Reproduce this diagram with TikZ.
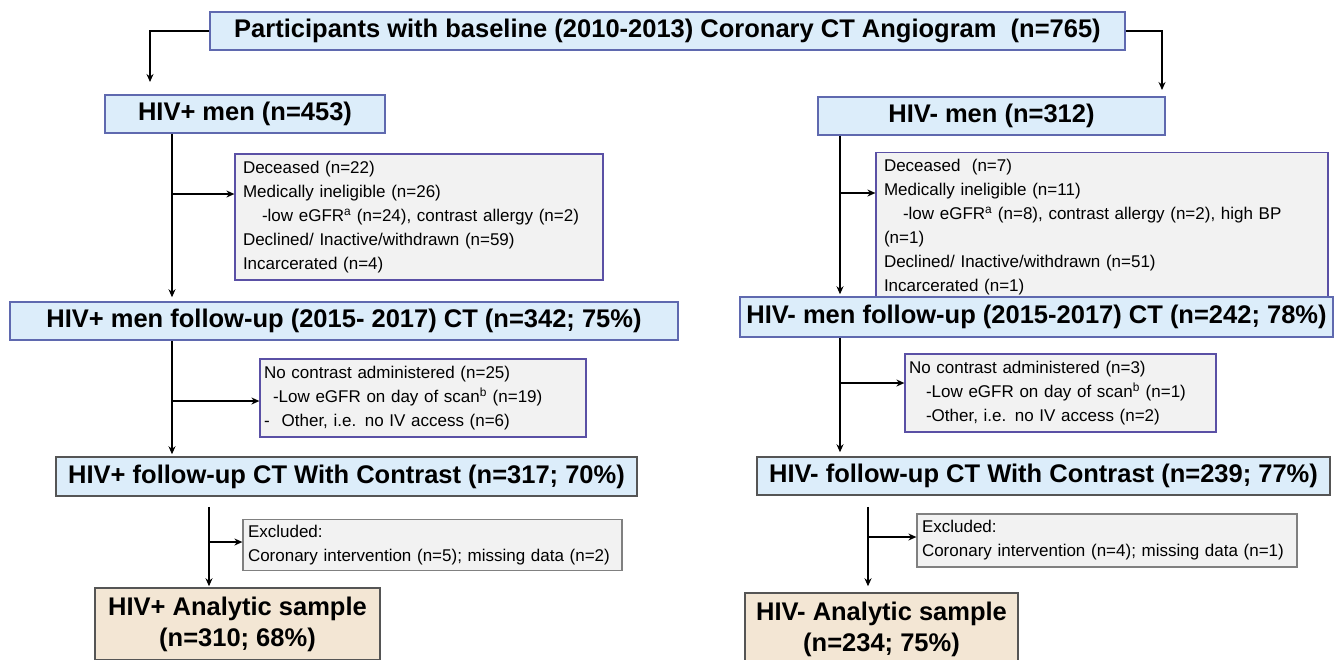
\documentclass[tikz,border=0pt]{standalone}
\usepackage{fontspec}
\setmainfont{Liberation Sans}
\usetikzlibrary{arrows.meta}
\definecolor{bluefill}{RGB}{220,237,250}
\definecolor{blueedge}{RGB}{95,105,175}
\definecolor{grayfill}{RGB}{242,242,242}
\definecolor{purpedge}{RGB}{90,80,165}
\definecolor{tanfill}{RGB}{243,230,212}
\definecolor{darkedge}{RGB}{85,85,85}
\tikzset{
 head/.style={draw=blueedge, fill=bluefill, line width=1.5pt, font=\fontsize{25.5}{31}\selectfont\bfseries, inner sep=0pt, align=center},
 contrastbox/.style={head, draw=darkedge},
 excl/.style={draw=purpedge, fill=grayfill, line width=1.2pt, font=\fontsize{17}{24}\selectfont, inner sep=0pt, align=left},
 exclgray/.style={excl, draw=gray},
 analytic/.style={head, fill=tanfill, draw=darkedge},
 conn/.style={line width=1.6pt, -{Stealth[length=8pt,width=7pt]}},
}
\begin{document}
\begin{tikzpicture}[x=1pt,y=-1pt]
\useasboundingbox (0,0) rectangle (1335,659);
% main boxes
\node[head, minimum width=915pt, minimum height=38pt] (top) at (667.5,31) {Participants with baseline (2010-2013) Coronary CT Angiogram\ \ (n=765)};
\node[head, minimum width=280pt, minimum height=38pt] (hivp) at (245,114) {HIV+ men (n=453)};
\node[head, minimum width=347pt, minimum height=38pt] (hivn) at (991.5,116) {HIV- men (n=312)};
% exclusion boxes level 1
\node[excl, minimum width=368pt, minimum height=126pt, text width=352pt] (e1L) at (419,217) {Deceased (n=22)\\Medically ineligible (n=26)\\\hspace*{19pt}-low eGFR\textsuperscript{a} (n=24), contrast allergy (n=2)\\Declined/ Inactive/withdrawn (n=59)\\Incarcerated (n=4)};
\node[excl, minimum width=452pt, minimum height=149pt, text width=436pt] (e1R) at (1102,227) {Deceased\ \ (n=7)\\Medically ineligible (n=11)\\\hspace*{19pt}-low eGFR\textsuperscript{a} (n=8), contrast allergy (n=2), high BP\\(n=1)\\Declined/ Inactive/withdrawn (n=51)\\Incarcerated (n=1)};
% follow-up boxes
\node[head, minimum width=668pt, minimum height=38pt] (fuL) at (344,321) {HIV+ men follow-up (2015- 2017) CT (n=342; 75\%)};
\node[head, minimum width=593pt, minimum height=40pt] (fuR) at (1036.5,317) {HIV- men follow-up (2015-2017) CT (n=242; 78\%)};
% exclusion boxes level 2
\node[excl, minimum width=326pt, minimum height=78pt, text width=318pt] (e2L) at (423,398) {No contrast administered (n=25)\\\hspace*{9pt}-Low eGFR on day of scan\textsuperscript{b} (n=19)\\-\hspace*{12pt}Other, i.e. no IV access (n=6)};
\node[excl, minimum width=311pt, minimum height=78pt, text width=303pt] (e2R) at (1060.5,393) {No contrast administered (n=3)\\\hspace*{17pt}-Low eGFR on day of scan\textsuperscript{b} (n=1)\\\hspace*{17pt}-Other, i.e. no IV access (n=2)};
% contrast boxes
\node[contrastbox, minimum width=581pt, minimum height=39pt] (conL) at (346.5,476.5) {HIV+ follow-up CT With Contrast (n=317; 70\%)};
\node[contrastbox, minimum width=573pt, minimum height=38pt] (conR) at (1043.5,476) {HIV- follow-up CT With Contrast (n=239; 77\%)};
% exclusion boxes level 3
\node[exclgray, minimum width=379pt, minimum height=51pt, text width=369pt] (e3L) at (432.5,545) {Excluded:\\Coronary intervention (n=5); missing data (n=2)};
\node[exclgray, minimum width=380pt, minimum height=53pt, text width=370pt] (e3R) at (1107,540.5) {Excluded:\\Coronary intervention (n=4); missing data (n=1)};
% analytic boxes
\node[analytic, minimum width=285pt, minimum height=72pt] (anaL) at (237.5,624) {HIV+ Analytic sample\\(n=310; 68\%)};
\node[analytic, minimum width=273pt, minimum height=72pt] (anaR) at (881.5,629) {HIV- Analytic sample\\(n=234; 75\%)};
% connectors from top
\coordinate (aL) at (150,82);
\coordinate (aR) at (1162,90);
\draw[conn] (top.west) -| (aL);
\draw[conn] (top.east) -| (aR);
% trunk coordinates
\coordinate (tL) at (172,0);
\coordinate (tR) at (840,0);
\coordinate (tL3) at (209,0);
\coordinate (tR3) at (868,0);
\coordinate (b1L) at (172,194);
\coordinate (b1R) at (840,193);
\coordinate (b2L) at (172,401);
\coordinate (b2R) at (840,383);
\coordinate (b3L) at (209,542);
\coordinate (b3R) at (868,537);
% left column
\draw[conn, shorten >=4pt] (tL |- hivp.south) -- (tL |- fuL.north);
\draw[conn] (b1L) -- (b1L -| e1L.west);
\draw[conn, shorten >=2pt] (tL |- fuL.south) -- (tL |- conL.north);
\draw[conn] (b2L) -- (b2L -| e2L.west);
\draw[conn, shorten <=10pt, shorten >=1pt] (tL3 |- conL.south) -- (tL3 |- anaL.north);
\draw[conn] (b3L) -- (b3L -| e3L.west);
% right column
\draw[conn, shorten >=2pt] (tR |- hivn.south) -- (tR |- fuR.north);
\draw[conn] (b1R) -- (b1R -| e1R.west);
\draw[conn, shorten >=4pt] (tR |- fuR.south) -- (tR |- conR.north);
\draw[conn] (b2R) -- (b2R -| e2R.west);
\draw[conn, shorten <=11pt, shorten >=6pt] (tR3 |- conR.south) -- (tR3 |- anaR.north);
\draw[conn] (b3R) -- (b3R -| e3R.west);
\end{tikzpicture}
\end{document}
